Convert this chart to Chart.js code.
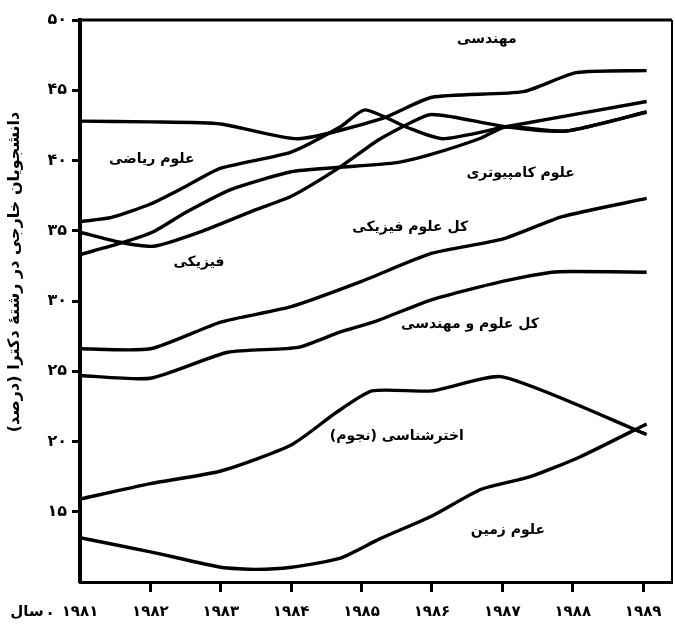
<!DOCTYPE html>
<html>
<head>
<meta charset="utf-8">
<script src="https://cdn.jsdelivr.net/npm/chart.js@4.4.1/dist/chart.umd.min.js"></script>
<style>
  html, body { margin: 0; padding: 0; background: #fff; }
  #wrap { width: 675px; height: 626px; position: relative; }
</style>
</head>
<body>
<div id="wrap"><canvas id="chart"></canvas></div>
<script>
// axis ticks
const years = [1981, 1982, 1983, 1984, 1985, 1986, 1987, 1988, 1989];
const yearLabels = ["۱۹۸۱", "۱۹۸۲", "۱۹۸۳", "۱۹۸۴", "۱۹۸۵", "۱۹۸۶", "۱۹۸۷", "۱۹۸۸", "۱۹۸۹"];
const yTicks = [15, 20, 25, 30, 35, 40, 45, 50];
const yTickLabels = ["۱۵", "۲۰", "۲۵", "۳۰", "۳۵", "۴۰", "۴۵", "۵۰"];

// series, [year, percent]
const engineering = [[1981, 42.8], [1982, 42.75], [1983, 42.6], [1984.1, 41.55], [1985.3, 43.0],
  [1986, 44.5], [1987.3, 44.9], [1988.05, 46.25], [1989.05, 46.4]];
const mathematics = [[1981, 35.65], [1981.45, 35.95], [1982, 36.9], [1982.5, 38.15], [1983, 39.45],
  [1984, 40.6], [1984.7, 42.4], [1985.05, 43.6], [1985.65, 42.35], [1986.15, 41.55], [1987.05, 42.4], [1989.05, 44.2]];
const physics = [[1981, 34.9], [1981.55, 34.2], [1982.05, 33.9], [1982.7, 34.9], [1983.5, 36.5],
  [1984, 37.45], [1984.7, 39.55], [1985.25, 41.5], [1985.95, 43.25], [1986.3, 43.1], [1987.05, 42.4],
  [1987.9, 42.1], [1989.05, 43.45]];
const computerScience = [[1981, 33.3], [1981.6, 34.15], [1982.05, 34.95], [1982.5, 36.3], [1983.15, 37.95],
  [1984, 39.2], [1984.65, 39.5], [1985.5, 39.85], [1986, 40.45], [1986.7, 41.6], [1987.05, 42.4],
  [1987.9, 42.1], [1989.05, 43.45]];
const allPhysical = [[1981, 26.6], [1982, 26.6], [1983, 28.5], [1984, 29.6], [1985, 31.4],
  [1986, 33.4], [1987, 34.4], [1987.85, 36.0], [1989.05, 37.3]];
const allScienceEng = [[1981, 24.7], [1982, 24.5], [1983.1, 26.35], [1984.1, 26.7], [1984.7, 27.8],
  [1985.2, 28.55], [1986, 30.1], [1987, 31.4], [1987.7, 32.05], [1988, 32.1], [1989.05, 32.05]];
const astronomy = [[1981, 15.9], [1982, 17.0], [1983, 17.9], [1984, 19.75], [1984.65, 22.1],
  [1985.15, 23.6], [1986, 23.6], [1987, 24.6], [1989.05, 20.5]];
const earthSciences = [[1981, 13.15], [1982, 12.15], [1983, 11.05], [1983.5, 10.9], [1984, 11.05],
  [1984.7, 11.7], [1985.25, 13.05], [1986, 14.7], [1986.7, 16.6], [1987.4, 17.5], [1988.1, 18.9], [1989.05, 21.25]];

const seriesList = [engineering, mathematics, physics, computerScience, allPhysical, allScienceEng, astronomy, earthSciences];

// in-plot labels and where they sit (in data units)
const lineLabels = ["مهندسی", "علوم ریاضی", "علوم کامپیوتری", "فیزیکی", "کل علوم فیزیکی", "کل علوم و مهندسی", "اخترشناسی (نجوم)", "علوم زمین"];
const labelAt = [[1986.78, 48.6], [1982.02, 40.05], [1987.26, 39.05], [1982.69, 32.75],
  [1985.69, 35.25], [1986.54, 28.35], [1985.5, 20.4], [1987.08, 13.7]];

const yTitle = "دانشجویان خارجی در رشتهٔ دکترا (درصد)";
const xTitle = "سال";

const FONT = "'DejaVu Sans', sans-serif";

const framePlugin = {
  id: "frame",
  afterDraw(chart) {
    const { ctx, chartArea: a, scales } = chart;
    ctx.save();
    ctx.strokeStyle = "#000";
    ctx.lineWidth = 3;
    ctx.beginPath();
    ctx.moveTo(a.left, a.top);
    ctx.lineTo(a.right, a.top);
    ctx.stroke();
    ctx.lineWidth = 2;
    ctx.beginPath();
    ctx.moveTo(a.right, a.top);
    ctx.lineTo(a.right, a.bottom);
    ctx.stroke();

    // line labels
    ctx.fillStyle = "#000";
    ctx.direction = "rtl";
    ctx.textAlign = "center";
    ctx.textBaseline = "middle";
    ctx.font = "bold 14px " + FONT;
    lineLabels.forEach((t, i) => {
      const x = scales.x.getPixelForValue(labelAt[i][0]);
      const y = scales.y.getPixelForValue(labelAt[i][1]);
      ctx.fillText(t, x, y);
    });

    // y title
    ctx.save();
    ctx.translate(15, 272);
    ctx.rotate(-Math.PI / 2);
    ctx.font = "bold 16px " + FONT;
    ctx.fillText(yTitle, 0, 0);
    ctx.restore();

    // "سال ." beside the first year
    ctx.font = "bold 15px " + FONT;
    ctx.fillText(xTitle, 27, 612);
    ctx.fillText(".", 50, 611);
    ctx.restore();
  }
};

new Chart(document.getElementById("chart"), {
  type: "line",
  data: {
    datasets: seriesList.map(s => ({
      data: s.map(p => ({ x: p[0], y: p[1] })),
      borderColor: "#000",
      borderWidth: 3.4,
      pointRadius: 0,
      tension: 0.2,
      fill: false
    }))
  },
  options: {
    responsive: true,
    maintainAspectRatio: false,
    animation: false,
    layout: { padding: { top: 20, right: 3, left: 0, bottom: 0 } },
    plugins: { legend: { display: false }, tooltip: { enabled: false } },
    scales: {
      x: {
        type: "linear",
        min: 1981,
        max: 1989.41,
        border: { color: "#000", width: 3 },
        grid: {
          drawOnChartArea: false,
          tickLength: 10,
          tickWidth: 3,
          tickColor: c => (c.tick && c.tick.value === 1981 ? "rgba(0,0,0,0)" : "#000")
        },
        ticks: {
          stepSize: 1,
          includeBounds: false,
          autoSkip: false,
          maxRotation: 0,
          padding: 11,
          color: "#000",
          font: { family: FONT, size: 15, weight: "bold" },
          callback: v => {
            const i = years.indexOf(v);
            return i >= 0 ? yearLabels[i] : "";
          }
        },
        afterFit: s => { s.height = 44; }
      },
      y: {
        min: 10,
        max: 50,
        border: { color: "#000", width: 4 },
        grid: {
          drawOnChartArea: false,
          tickLength: 8,
          tickWidth: 3,
          tickColor: c => (c.tick && c.tick.value === 10 ? "rgba(0,0,0,0)" : "#000")
        },
        ticks: {
          stepSize: 5,
          padding: 5,
          color: "#000",
          font: { family: FONT, size: 16, weight: "bold" },
          callback: v => {
            const i = yTicks.indexOf(v);
            return i >= 0 ? yTickLabels[i] : "";
          }
        },
        afterFit: s => { s.width = 80; }
      }
    }
  },
  plugins: [framePlugin]
});
</script>
</body>
</html>
